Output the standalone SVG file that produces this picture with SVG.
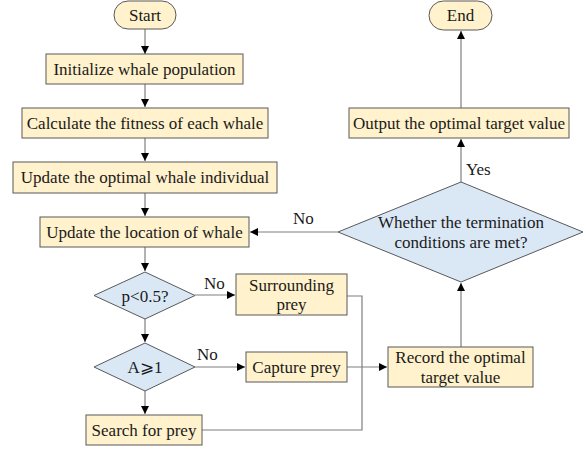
<svg xmlns="http://www.w3.org/2000/svg" width="588" height="450" viewBox="0 0 588 450">
  <style>
    .box { fill: #fff2cc; stroke: #595959; stroke-width: 1; }
    .dec { fill: #dae8f6; stroke: #595959; stroke-width: 1; }
    text { font-family: 'Liberation Serif', 'DejaVu Serif', serif; font-size: 17px; fill: #1a1a1a; }
    .t { text-anchor: middle; dominant-baseline: central; }
    .c { fill: none; stroke: #7f7f7f; stroke-width: 1.2; }
  </style>
  <defs>
    <marker id="ah" viewBox="0 0 10 10" refX="10" refY="5" markerWidth="8" markerHeight="8" markerUnits="userSpaceOnUse" orient="auto">
      <path d="M0,0 L10,5 L0,10 Z" fill="#000"/>
    </marker>
  </defs>

  <g id="connectors">
    <path class="c" d="M145,28 V54" marker-end="url(#ah)"/>
    <path class="c" d="M145,84 V107" marker-end="url(#ah)"/>
    <path class="c" d="M145,138 V161" marker-end="url(#ah)"/>
    <path class="c" d="M145,193 V216" marker-end="url(#ah)"/>
    <path class="c" d="M145,247 V271" marker-end="url(#ah)"/>
    <path class="c" d="M145,319 V342" marker-end="url(#ah)"/>
    <path class="c" d="M145,391 V414" marker-end="url(#ah)"/>
    <path class="c" d="M195,295 H235" marker-end="url(#ah)"/>
    <path class="c" d="M195,367 H245" marker-end="url(#ah)"/>
    <path class="c" d="M347,296 H362 V430 H202"/>
    <path class="c" d="M347,367 H387" marker-end="url(#ah)"/>
    <path class="c" d="M461,347 V283" marker-end="url(#ah)"/>
    <path class="c" d="M338,232 H250" marker-end="url(#ah)"/>
    <path class="c" d="M461,182 V139" marker-end="url(#ah)"/>
    <path class="c" d="M461,108 V31" marker-end="url(#ah)"/>
    <text x="293" y="224">No</text>
    <text x="204" y="289">No</text>
    <text x="197" y="360">No</text>
    <text x="466" y="175">Yes</text>
  </g>

  <g id="start">
    <rect class="box" x="114" y="1" width="62" height="28" rx="14"/>
    <text class="t" x="145" y="15">Start</text>
  </g>
  <g id="init">
    <rect class="box" x="46" y="54" width="197" height="30"/>
    <text class="t" x="144.5" y="69">Initialize whale population</text>
  </g>
  <g id="fitness">
    <rect class="box" x="22" y="108" width="246" height="30"/>
    <text class="t" x="145" y="123">Calculate the fitness of each whale</text>
  </g>
  <g id="optimal">
    <rect class="box" x="13" y="162" width="264" height="31"/>
    <text class="t" x="145" y="177.5">Update the optimal whale individual</text>
  </g>
  <g id="location">
    <rect class="box" x="40" y="217" width="209" height="30"/>
    <text class="t" x="144.5" y="232">Update the location of whale</text>
  </g>
  <g id="p-check">
    <polygon class="dec" points="145,272 195,295.5 145,319 94,295.5"/>
    <text class="t" x="145" y="296">p&lt;0.5?</text>
  </g>
  <g id="a-check">
    <polygon class="dec" points="145,343 195,367 145,391 94,367"/>
    <text class="t" x="145" y="367">A⩾1</text>
  </g>
  <g id="search">
    <rect class="box" x="86" y="415" width="116" height="30"/>
    <text class="t" x="144" y="430">Search for prey</text>
  </g>
  <g id="surround">
    <rect class="box" x="236" y="274" width="111" height="41"/>
    <text class="t" x="291.5" y="285">Surrounding</text>
    <text class="t" x="291.5" y="304">prey</text>
  </g>
  <g id="capture">
    <rect class="box" x="246" y="352" width="101" height="30"/>
    <text class="t" x="296.5" y="367">Capture prey</text>
  </g>
  <g id="record">
    <rect class="box" x="388" y="347" width="145" height="40"/>
    <text class="t" x="460.5" y="357.5">Record the optimal</text>
    <text class="t" x="460.5" y="377">target value</text>
  </g>
  <g id="terminate">
    <polygon class="dec" points="461,182 583,232 461,282 338,232"/>
    <text class="t" x="461" y="222">Whether the termination</text>
    <text class="t" x="461" y="242">conditions are met?</text>
  </g>
  <g id="output">
    <rect class="box" x="349" y="108" width="220" height="30"/>
    <text class="t" x="459" y="123">Output the optimal target value</text>
  </g>
  <g id="end">
    <rect class="box" x="429" y="1" width="63" height="29" rx="14.5"/>
    <text class="t" x="460.5" y="15.5">End</text>
  </g>
</svg>
